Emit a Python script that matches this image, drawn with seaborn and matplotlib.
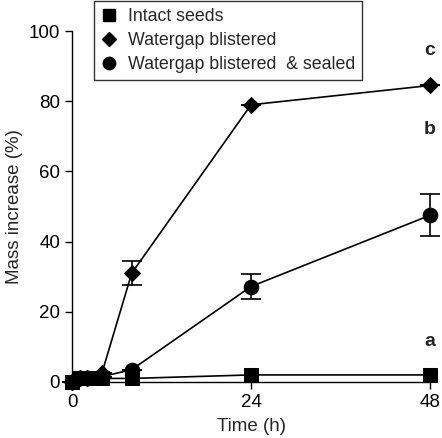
import numpy as np
import pandas as pd
import seaborn as sns
import matplotlib
matplotlib.use('Agg')
import matplotlib.pyplot as plt
from matplotlib.lines import Line2D

sns.set_style('ticks')
plt.rcParams['font.family'] = ['Liberation Sans', 'DejaVu Sans']

# data
hours = [0, 1, 2, 4, 8, 24, 48]
intact = [0, 1.2, 1.2, 1.0, 1.0, 2.0, 2.0]
blistered = [0, 1.0, 1.0, 2.5, 31, 79, 84.5]
blistered_err = [0, 0, 0, 0, 3.4, 0, 0]
sealed = [0, 1.0, 1.0, 1.5, 3.5, 27.2, 47.5]
sealed_err = [0, 0, 0, 0, 0, 3.6, 6.0]
groups = ["Intact seeds", "Watergap blistered", "Watergap blistered  & sealed"]
sig_letters = ["a", "c", "b"]
letter_y = [11.5, 94.5, 72]

df = pd.concat([
    pd.DataFrame({"time": hours, "mass": intact, "group": groups[0]}),
    pd.DataFrame({"time": hours, "mass": blistered, "group": groups[1]}),
    pd.DataFrame({"time": hours, "mass": sealed, "group": groups[2]}),
], ignore_index=True)

marker_map = {groups[0]: 's', groups[1]: 'D', groups[2]: 'o'}
size_map = {groups[0]: 9.5, groups[1]: 8, groups[2]: 10.5}

fig = plt.figure(figsize=(4.42, 4.38), dpi=100)
ax = fig.add_axes([0.163, 0.128, 0.81, 0.801])

for g in groups:
    sub = df[df["group"] == g]
    sns.lineplot(data=sub, x="time", y="mass", ax=ax, color='black',
                 marker=marker_map[g], markersize=size_map[g],
                 markeredgecolor='black', linewidth=1.2, clip_on=False,
                 legend=False)

ax.errorbar(hours, blistered, yerr=blistered_err, fmt='none', ecolor='black',
            elinewidth=1.2, capsize=7, capthick=1.2, clip_on=False)
ax.errorbar(hours, sealed, yerr=sealed_err, fmt='none', ecolor='black',
            elinewidth=1.2, capsize=7, capthick=1.2, clip_on=False)

for lt, ly in zip(sig_letters, letter_y):
    ax.text(48, ly, lt, ha='center', va='center', fontsize=14, fontweight='bold')

ax.set_xlim(0, 48)
ax.set_ylim(0, 100)
ax.set_xticks([0, 24, 48])
ax.set_yticks([0, 20, 40, 60, 80, 100])
ax.tick_params(direction='out', length=5, width=1, labelsize=13.5, colors='black')
ax.set_xlabel("Time (h)", fontsize=13.5, labelpad=5)
ax.set_ylabel("Mass increase (%)", fontsize=13.5, labelpad=4)
sns.despine(ax=ax)
for s in ['left', 'bottom']:
    ax.spines[s].set_color('black')
    ax.spines[s].set_linewidth(1)

handles = [Line2D([], [], linestyle='none', marker=marker_map[g], color='black',
                  markersize=size_map[g] * 0.85) for g in groups]
leg = fig.legend(handles, groups, loc='upper left', bbox_to_anchor=(0.213, 0.998),
                 fontsize=12.8, frameon=True, fancybox=False, edgecolor='black',
                 handlelength=0.9, handletextpad=0.6, labelspacing=0.4,
                 borderpad=0.4, borderaxespad=0)
leg.get_frame().set_linewidth(1)

fig.savefig('out.png', dpi=100)
